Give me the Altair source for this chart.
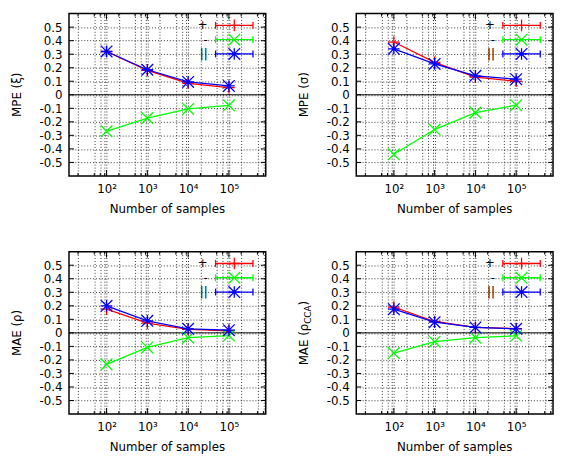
import altair as alt
import pandas as pd

# ---------------- data ----------------
N = [100, 1000, 10000, 100000]
series = ["+", "-", "||"]
colors = ["#ff0000", "#00ff00", "#0000ff"]

mpe_xi_plus = [0.32, 0.18, 0.085, 0.053]
mpe_xi_minus = [-0.27, -0.172, -0.105, -0.078]
mpe_xi_par = [0.32, 0.185, 0.095, 0.065]

mpe_sigma_plus = [0.39, 0.24, 0.13, 0.10]
mpe_sigma_minus = [-0.44, -0.257, -0.132, -0.077]
mpe_sigma_par = [0.34, 0.228, 0.14, 0.115]

mae_rho_plus = [0.175, 0.072, 0.025, 0.015]
mae_rho_minus = [-0.233, -0.108, -0.036, -0.02]
mae_rho_par = [0.20, 0.089, 0.03, 0.02]

mae_cca_plus = [0.19, 0.084, 0.04, 0.031]
mae_cca_minus = [-0.149, -0.065, -0.036, -0.022]
mae_cca_par = [0.175, 0.079, 0.04, 0.03]

y_titles = ["MPE (ξ)", "MPE (σ)", "MAE (ρ)"]
cca_title = ["MAE (ρ", "CCA", ")"]
x_title = "Number of samples"

y_ticks = [-0.5, -0.4, -0.3, -0.2, -0.1, 0.0, 0.1, 0.2, 0.3, 0.4, 0.5]
x_major = [100, 1000, 10000, 100000]
x_major_labels = ["10²", "10³", "10⁴", "10⁵"]
x_minor = [20, 50, 70, 90, 200, 500, 700, 900, 2000, 5000, 7000, 9000,
           20000, 50000, 70000, 90000, 200000, 500000, 700000]

# ---------------- styling ----------------
W, H = 200, 165
FONT = "DejaVu Sans"
shapes = {
    "+": "M-1,0L1,0M0,-1L0,1",
    "-": "M-1,-1L1,1M-1,1L1,-1",
    "||": "M-1,0L1,0M0,-1L0,1M-1,-1L1,1M-1,1L1,-1",
}

x_grid = sorted(x_major + x_minor)
label_expr = " : ".join(
    f"datum.value == {v} ? '{l}'" for v, l in zip(x_major, x_major_labels)
) + " : ''"

xscale = alt.Scale(type="log", domain=[12, 800000], nice=False)
yscale = alt.Scale(domain=[-0.6, 0.6], nice=False, zero=False)

xaxis = alt.Axis(values=x_grid, grid=True, gridDash=[1, 2], gridColor="#000000",
                 gridOpacity=0.8, ticks=False, tickSize=0, domain=False,
                 labelExpr=label_expr, labelFontSize=12, labelFont=FONT,
                 labelColor="black", labelPadding=8, labelOverlap=False,
                 labelFlush=False, title=None)
yaxis = alt.Axis(values=y_ticks, grid=True, gridDash=[1, 2], gridColor="#000000",
                 gridOpacity=0.8, ticks=False, tickSize=0, domain=False,
                 labelExpr="datum.value == 0 ? '0' : (datum.value < 0 ? '-' + format(-datum.value, '.1f') : format(datum.value, '.1f'))",
                 labelFontSize=12, labelFont=FONT, labelColor="black",
                 labelPadding=7, labelOverlap=False, labelFlush=False, title=None)

X = alt.X("N:Q", scale=xscale, axis=xaxis)
Y = alt.Y("v:Q", scale=yscale, axis=yaxis)

LEG_ROWS = [12, 26.5, 41]


def panel(plus, minus, par, ytitle=None, cca=False):
    layers = []
    # zero axis line
    layers.append(alt.Chart(pd.DataFrame({"v": [0.0]})).mark_rule(
        color="black", strokeWidth=1).encode(y=Y))
    # inside ticks (y)
    ydf = pd.DataFrame({"v": y_ticks})
    layers.append(alt.Chart(ydf).mark_rule(color="black", strokeWidth=1).encode(
        y=Y, x=alt.value(0), x2=alt.value(5)))
    layers.append(alt.Chart(ydf).mark_rule(color="black", strokeWidth=1).encode(
        y=Y, x=alt.value(W - 5), x2=alt.value(W)))
    # inside ticks (x)
    for vals, ln in ((x_major, 6), (x_minor, 3)):
        xdf = pd.DataFrame({"N": vals})
        layers.append(alt.Chart(xdf).mark_rule(color="black", strokeWidth=1).encode(
            x=X, y=alt.value(H - ln), y2=alt.value(H)))
        layers.append(alt.Chart(xdf).mark_rule(color="black", strokeWidth=1).encode(
            x=X, y=alt.value(0), y2=alt.value(ln)))
    # data series
    for s, c, vals in zip(series, colors, (plus, minus, par)):
        df = pd.DataFrame({"N": N, "v": vals})
        layers.append(alt.Chart(df).mark_line(color=c, strokeWidth=1.3).encode(x=X, y=Y))
        layers.append(alt.Chart(df).mark_point(
            shape=shapes[s], filled=False, stroke=c, strokeWidth=1.3, size=140, opacity=1
        ).encode(x=X, y=Y))
    # legend (key)
    for s, c, ry in zip(series, colors, LEG_ROWS):
        ldf = pd.DataFrame({"label": [s]})
        layers.append(alt.Chart(ldf).mark_text(
            align="right", baseline="middle", fontSize=12, font=FONT, color="black"
        ).encode(x=alt.value(141), y=alt.value(ry), text="label:N"))
        layers.append(alt.Chart(ldf).mark_rule(color=c, strokeWidth=1.3).encode(
            x=alt.value(149), x2=alt.value(187), y=alt.value(ry)))
        for cx in (149, 187):
            layers.append(alt.Chart(ldf).mark_rule(color=c, strokeWidth=1.3).encode(
                x=alt.value(cx), y=alt.value(ry - 3.5), y2=alt.value(ry + 3.5)))
        layers.append(alt.Chart(ldf).mark_point(
            shape=shapes[s], filled=False, stroke=c, strokeWidth=1.3, size=140, opacity=1
        ).encode(x=alt.value(168), y=alt.value(ry)))
    # x title
    layers.append(alt.Chart(pd.DataFrame({"t": [x_title]})).mark_text(
        align="center", baseline="alphabetic", fontSize=12, font=FONT, color="black"
    ).encode(x=alt.value(W / 2), y=alt.value(H + 38), text="t:N"))
    # y title
    if not cca:
        layers.append(alt.Chart(pd.DataFrame({"t": [ytitle]})).mark_text(
            align="center", baseline="middle", angle=270, fontSize=12, font=FONT,
            color="black"
        ).encode(x=alt.value(-53), y=alt.value(H / 2), text="t:N"))
    else:
        y0 = H / 2 + 33
        parts = [(cca_title[0], 12, -53, y0),
                 (cca_title[1], 9, -49, y0 - 42.2),
                 (cca_title[2], 12, -53, y0 - 42.2 - 18.7)]
        for txt, fs, px, py in parts:
            layers.append(alt.Chart(pd.DataFrame({"t": [txt]})).mark_text(
                align="left", baseline="middle", angle=270, fontSize=fs, font=FONT,
                color="black"
            ).encode(x=alt.value(px), y=alt.value(py), text="t:N"))
    return alt.layer(*layers).properties(width=W, height=H)


p1 = panel(mpe_xi_plus, mpe_xi_minus, mpe_xi_par, y_titles[0])
p2 = panel(mpe_sigma_plus, mpe_sigma_minus, mpe_sigma_par, y_titles[1])
p3 = panel(mae_rho_plus, mae_rho_minus, mae_rho_par, y_titles[2])
p4 = panel(mae_cca_plus, mae_cca_minus, mae_cca_par, cca=True)

chart = alt.concat(p1, p2, p3, p4, columns=2, spacing={"row": 77, "column": 92}).properties(
    bounds="flush",
    padding={"left": 2, "top": 0, "right": 0, "bottom": 0},
    background="white",
).configure_view(stroke="black", strokeWidth=1.5).configure_text(font=FONT)

chart.save("out.html", embed_options={"renderer": "svg", "actions": False})
